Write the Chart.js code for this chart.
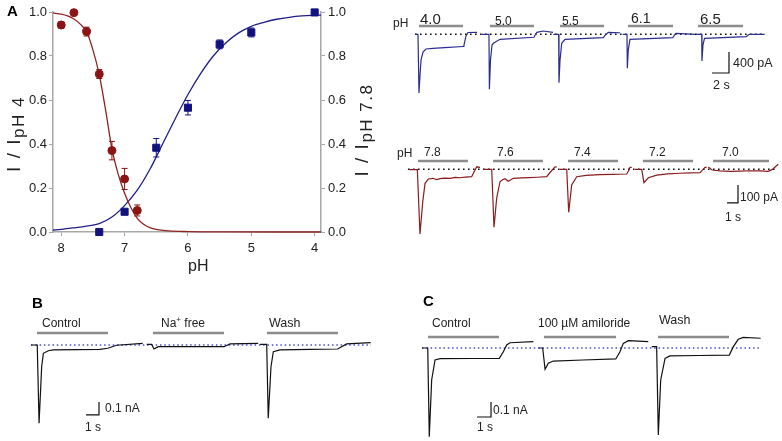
<!DOCTYPE html>
<html><head><meta charset="utf-8">
<script src="https://cdn.jsdelivr.net/npm/chart.js@4.4.0/dist/chart.umd.min.js"></script>
<style>
body{margin:0;width:782px;height:441px;position:relative;background:#fff;overflow:hidden;font-family:Arial,"Liberation Sans",sans-serif;color:#222}
canvas{position:absolute}
.t{position:absolute;white-space:nowrap;line-height:1}
.b{font-weight:bold;color:#000}
.rot{position:absolute;white-space:nowrap;line-height:1;letter-spacing:1.5px;transform:translate(-50%,-50%) rotate(-90deg)}
</style></head><body>
<canvas id="cA" width="375" height="280" style="left:0;top:0"></canvas>
<canvas id="cTop" width="402" height="130" style="left:380px;top:0"></canvas>
<canvas id="cBot" width="402" height="150" style="left:380px;top:135px"></canvas>
<canvas id="cB" width="390" height="156" style="left:0;top:285px"></canvas>
<canvas id="cC" width="392" height="156" style="left:390px;top:285px"></canvas>

<div class="t b" style="left:7px;top:3px;font-size:15px">A</div>
<div class="rot" style="left:13px;top:134px;font-size:19px">I / I<span style="font-size:17px;position:relative;top:4px">pH 4</span></div>
<div class="rot" style="left:361px;top:130px;font-size:19px">I / I<span style="font-size:17px;position:relative;top:4px">pH 7.8</span></div>
<div class="t" style="left:188px;top:258px;font-size:16px">pH</div>

<div class="t" style="left:393px;top:17px;font-size:12px">pH</div>
<div class="t" style="left:420px;top:10.5px;font-size:15px">4.0</div>
<div class="t" style="left:495px;top:14.5px;font-size:12px">5.0</div>
<div class="t" style="left:562px;top:14.5px;font-size:12px">5.5</div>
<div class="t" style="left:631px;top:11px;font-size:14px">6.1</div>
<div class="t" style="left:700px;top:10.5px;font-size:15px">6.5</div>
<div class="t" style="left:733px;top:57px;font-size:12.5px">400 pA</div>
<div class="t" style="left:713px;top:79px;font-size:12.5px">2 s</div>

<div class="t" style="left:397px;top:146.5px;font-size:12px">pH</div>
<div class="t" style="left:424px;top:146px;font-size:12px">7.8</div>
<div class="t" style="left:497px;top:146px;font-size:12px">7.6</div>
<div class="t" style="left:574px;top:146px;font-size:12px">7.4</div>
<div class="t" style="left:649px;top:146px;font-size:12px">7.2</div>
<div class="t" style="left:722px;top:146px;font-size:12px">7.0</div>
<div class="t" style="left:740px;top:191px;font-size:12px">100 pA</div>
<div class="t" style="left:725px;top:210.5px;font-size:12px">1 s</div>

<div class="t b" style="left:32px;top:294.5px;font-size:15px">B</div>
<div class="t" style="left:42px;top:317px;font-size:12px">Control</div>
<div class="t" style="left:161px;top:317px;font-size:12px">Na<span style="font-size:8px;position:relative;top:-5px">+</span> free</div>
<div class="t" style="left:269px;top:317px;font-size:12.5px">Wash</div>
<div class="t" style="left:105px;top:402px;font-size:12px">0.1 nA</div>
<div class="t" style="left:85px;top:421px;font-size:12px">1 s</div>

<div class="t b" style="left:423px;top:292.5px;font-size:15px">C</div>
<div class="t" style="left:432px;top:317px;font-size:12px">Control</div>
<div class="t" style="left:538px;top:317px;font-size:12px">100 µM amiloride</div>
<div class="t" style="left:659px;top:314px;font-size:12.5px">Wash</div>
<div class="t" style="left:493px;top:404px;font-size:12px">0.1 nA</div>
<div class="t" style="left:477px;top:421px;font-size:12px">1 s</div>

<script>
// ---------- Panel A: dose-response data ----------
const phTicks = [8, 7, 6, 5, 4];
const yTicks = [0, 0.2, 0.4, 0.6, 0.8, 1.0];
// red: I / I pH 7.8
const redPH  = [8.0, 7.8, 7.6, 7.4, 7.2, 7.0, 6.8];
const redVal = [0.941, 0.997, 0.911, 0.718, 0.370, 0.241, 0.098];
const redErr = [0.015, 0, 0.02, 0.02, 0.042, 0.048, 0.025];
// blue: I / I pH 4
const bluePH  = [7.4, 7.0, 6.5, 6.0, 5.5, 5.0, 4.0];
const blueVal = [0.0, 0.092, 0.383, 0.565, 0.853, 0.907, 0.998];
const blueErr = [0, 0, 0.042, 0.033, 0.02, 0.02, 0];
// fitted curves
const redFitPH  = [8.13, 8.0, 7.9, 7.8, 7.7, 7.6, 7.5, 7.4, 7.3, 7.2, 7.1, 7.0, 6.9, 6.8, 6.7, 6.6, 6.5, 6.3, 6.0, 5.5, 4.5, 3.9];
const redFitVal = [0.996, 0.99, 0.982, 0.968, 0.945, 0.91, 0.828, 0.715, 0.555, 0.378, 0.262, 0.176, 0.11, 0.062, 0.035, 0.02, 0.012, 0.005, 0.002, 0.0005, 0, 0];
const blueFitPH  = [8.13, 8.0, 7.8, 7.6, 7.4, 7.2, 7.0, 6.8, 6.6, 6.4, 6.2, 6.0, 5.8, 5.6, 5.4, 5.2, 5.0, 4.8, 4.6, 4.4, 4.2, 4.0, 3.9];
const blueFitVal = [0.009, 0.012, 0.019, 0.027, 0.038, 0.068, 0.12, 0.19, 0.285, 0.40, 0.515, 0.625, 0.72, 0.80, 0.86, 0.905, 0.935, 0.953, 0.967, 0.976, 0.982, 0.985, 0.986];

// ---------- Panel A (right top): pH 4.0-6.5 traces [time s, current pA] ----------
const topPH40 = [[0,0],[0.35,0],[0.47,-1118],[0.59,-775],[0.71,-490],[0.94,-337],[1.29,-280],[2.1,-267],[3.5,-252],[5.65,-232],[5.76,-204],[6.0,-32],[6.24,34],[7.3,38]];
const topPH50 = [[7.85,0],[8.7,0],[8.75,-1048],[8.88,-490],[9.06,-204],[9.22,-171],[10.0,-95],[14.0,-57],[14.15,-10],[14.35,38],[15.06,63],[16.24,38]];
const topPH55 = [[16.27,0],[16.9,0],[16.94,-922],[17.06,-495],[17.26,-171],[17.65,-95],[22.16,-65],[22.35,-20],[22.74,38],[24.12,30]];
const topPH61 = [[24.43,0],[24.94,0],[24.98,-648],[25.09,-300],[25.29,-95],[30.32,-65],[30.5,-20],[30.71,19],[32.94,0]];
const topPH65 = [[33.06,0],[33.73,0],[33.76,-508],[33.88,-200],[34.06,-76],[38.98,-46],[39.2,-15],[39.38,0],[41.14,0]];
const topBars = [[0.47,5.65],[8.82,14.0],[17.06,22.24],[25.06,30.35],[33.3,38.6]];
const topBarLevel = 158;
const topBaseline = [0, 40.8];
const topScale = {t: [34.94, 36.94], i: [-737, -337]};

// ---------- Panel A (right bottom): pH 7.8-7.0 traces [s, pA] ----------
const botPH78 = [[0.12,-2],[0.85,-2],[1.09,-359],[1.34,-180],[1.55,-78],[1.85,-54],[2.27,-50],[2.6,-57],[2.91,-52],[3.3,-49],[3.82,-50],[4.3,-45],[4.73,-47],[5.2,-43],[5.79,-41],[6.0,-15],[6.25,14],[6.55,11]];
const botPH76 = [[6.85,0],[7.61,0],[7.82,-322],[8.06,-161],[8.36,-69],[8.6,-58],[8.82,-52],[9.12,-66],[9.57,-50],[10.3,-48],[11.0,-46],[11.8,-44],[12.61,-41],[12.95,-15],[13.36,14],[13.52,12]];
const botPH74 = [[13.82,0],[14.43,0],[14.61,-239],[14.88,-87],[15.34,-41],[16.2,-34],[17.45,-30],[18.6,-28],[19.88,-26],[20.05,-8],[20.18,11],[20.34,11]];
const botPH72 = [[20.64,0],[21.25,0],[21.45,-74],[21.85,-47],[22.61,-32],[23.6,-25],[24.73,-22],[25.6,-20],[26.55,-19],[26.77,-5],[27.0,11],[27.15,11]];
const botPH70 = [[27.3,13],[27.64,-4],[28.36,-9],[29.3,-11],[30.18,-10],[31.1,-8],[32.0,-9],[32.75,-11],[33.09,-2],[33.66,28]];
const botBars = [[0.91,5.45],[7.73,12.27],[14.55,19.09],[21.36,25.91],[27.73,32.82]];
const botBarLevel = 46;
const botBaseline = [0, 33.64];
const botScale = {t: [29.0, 30.0], i: [-187, -87]};

// ---------- Panel B [s, nA] ----------
const bControl = [[0,0],[0.48,0],[0.62,-0.602],[0.82,-0.167],[0.95,-0.064],[1.33,-0.044],[1.72,-0.038],[3.5,-0.036],[5.31,-0.033],[5.9,-0.025],[6.59,-0.002],[8.59,0.013]];
const bNaFree  = [[8.9,0.005],[9.28,0.005],[9.46,-0.031],[9.79,-0.013],[12.0,-0.012],[14.85,-0.013],[15.31,0.008],[17.48,0.013]];
const bWash    = [[17.62,0.005],[18.13,0.005],[18.25,-0.564],[18.46,-0.167],[18.64,-0.052],[19.15,-0.038],[21.5,-0.034],[23.59,-0.031],[24.28,0.008],[26.13,0.018]];
const bBars = [[0.46,5.92],[9.38,14.85],[18.15,23.62]];
const bBarLevel = 0.092;
const bBaseline = [0, 26.15];
const bScale = {t: [4.23, 5.23], i: [-0.538, -0.438]};

// ---------- Panel C [s, nA] ----------
const cControl   = [[0,0],[0.41,0],[0.52,-0.591],[0.69,-0.213],[0.93,-0.08],[1.29,-0.071],[3.5,-0.07],[5.52,-0.069],[5.81,-0.025],[6.05,0.02],[6.29,0.035],[7.95,0.042]];
const cAmiloride = [[8.31,0],[8.62,0],[8.79,-0.142],[9.02,-0.102],[9.38,-0.087],[11.5,-0.08],[13.84,-0.073],[14.14,-0.025],[14.38,0.031],[14.74,0.049],[16.16,0.042]];
const cWash      = [[16.41,0.009],[16.76,0.009],[16.88,-0.58],[17.05,-0.213],[17.36,-0.069],[17.71,-0.053],[19.8,-0.05],[21.95,-0.047],[22.24,0.009],[22.59,0.058],[22.95,0.071],[24.19,0.065]];
const cBars = [[0.43,5.5],[8.71,13.86],[16.86,21.93]];
const cBarLevel = 0.073;
const cBaseline = [0, 24.21];
const cScale = {t: [3.93, 4.93], i: [-0.46, -0.36]};

Chart.defaults.font.family = 'Arial, "Liberation Sans", sans-serif';
Chart.defaults.color = '#222';

const RED = '#8b1414', BLUE = '#12127f', AXIS = '#a8a8a8';
const zip = (xs, ys) => xs.map((x, k) => ({x, y: ys[k]}));

const errorBars = {
  id: 'errorBars',
  afterDatasetsDraw(chart) {
    const ctx = chart.ctx;
    chart.data.datasets.forEach((ds, di) => {
      if (!ds.errors) return;
      const meta = chart.getDatasetMeta(di);
      const ys = chart.scales[ds.yAxisID];
      meta.data.forEach((pt, k) => {
        const e = ds.errors[k]; if (!e) return;
        const v = ds.data[k].y;
        const y1 = ys.getPixelForValue(v + e), y2 = ys.getPixelForValue(v - e);
        ctx.save(); ctx.strokeStyle = ds.borderColor; ctx.lineWidth = 1;
        ctx.beginPath();
        ctx.moveTo(pt.x, y1); ctx.lineTo(pt.x, y2);
        ctx.moveTo(pt.x - 3, y1); ctx.lineTo(pt.x + 3, y1);
        ctx.moveTo(pt.x - 3, y2); ctx.lineTo(pt.x + 3, y2);
        ctx.stroke(); ctx.restore();
      });
    });
  }
};

const yAxis = (pos, w) => ({
  position: pos, min: 0, max: 1,
  afterBuildTicks: s => { s.ticks = yTicks.map(v => ({value: v})); },
  afterFit: s => { s.width = w; },
  ticks: {font: {size: 13}, color: '#222', padding: pos === 'left' ? 2 : 3, callback: v => v.toFixed(1)},
  grid: {drawOnChartArea: false, tickLength: 4, color: AXIS},
  border: {color: AXIS, width: 1.5}
});

new Chart(document.getElementById('cA'), {
  type: 'scatter',
  data: {datasets: [
    {data: zip(redPH, redVal), errors: redErr, yAxisID: 'y2', pointStyle: 'circle', pointRadius: 4, backgroundColor: RED, borderColor: RED, borderWidth: 1},
    {data: zip(bluePH, blueVal), errors: blueErr, yAxisID: 'y', pointStyle: 'rect', pointRadius: 5, backgroundColor: BLUE, borderColor: BLUE, borderWidth: 1},
    {data: zip(redFitPH, redFitVal), yAxisID: 'y2', showLine: true, pointRadius: 0, borderColor: '#8e2323', borderWidth: 1.3, tension: 0.4, cubicInterpolationMode: 'monotone'},
    {data: zip(blueFitPH, blueFitVal), yAxisID: 'y', showLine: true, pointRadius: 0, borderColor: '#1f1f85', borderWidth: 1.3, tension: 0.4, cubicInterpolationMode: 'monotone'}
  ]},
  options: {
    responsive: false, animation: false, events: [], clip: false,
    layout: {padding: {top: 12, left: 0, right: 0, bottom: 0}},
    plugins: {legend: {display: false}, tooltip: {enabled: false}},
    scales: {
      x: {type: 'linear', reverse: true, min: 3.9, max: 8.13,
          afterBuildTicks: s => { s.ticks = phTicks.map(v => ({value: v})); },
          afterFit: s => { s.height = 48; },
          ticks: {font: {size: 13}, color: '#222', padding: 5},
          grid: {drawOnChartArea: false, tickLength: 4, color: AXIS},
          border: {color: AXIS, width: 1.5}},
      y: yAxis('left', 53),
      y2: yAxis('right', 54)
    }
  },
  plugins: [errorBars]
});

function traceChart(id, traces, color, bars, barLevel, baseline, baseColor, dash, scale, xr, yr) {
  const ds = [];
  traces.forEach(tr => ds.push({data: tr.map(p => ({x: p[0], y: p[1]})), showLine: true, pointRadius: 0, borderColor: color, borderWidth: 1.2}));
  ds.push({data: [{x: scale.t[0], y: scale.i[0]}, {x: scale.t[1], y: scale.i[0]}, {x: scale.t[1], y: scale.i[1]}], showLine: true, pointRadius: 0, borderColor: '#111', borderWidth: 1.2});
  bars.forEach(b => ds.push({data: [{x: b[0], y: barLevel}, {x: b[1], y: barLevel}], showLine: true, pointRadius: 0, borderColor: '#8c8c8c', borderWidth: 2.5}));
  ds.push({data: [{x: baseline[0], y: 0}, {x: baseline[1], y: 0}], showLine: true, pointRadius: 0, borderColor: baseColor, borderWidth: 1.6, borderDash: dash});
  new Chart(document.getElementById(id), {
    type: 'scatter', data: {datasets: ds},
    options: {responsive: false, animation: false, events: [], clip: false,
      layout: {padding: 0},
      plugins: {legend: {display: false}, tooltip: {enabled: false}},
      scales: {x: {type: 'linear', display: false, min: xr[0], max: xr[1]}, y: {display: false, min: yr[0], max: yr[1]}}}
  });
}

traceChart('cTop', [topPH40, topPH50, topPH55, topPH61, topPH65], '#2b2d8e', topBars, topBarLevel, topBaseline, '#111', [1.6, 3.4], topScale, [-4.118, 43.176], [-1823, 653.4]);
traceChart('cBot', [botPH78, botPH76, botPH74, botPH72, botPH70], '#8b1c1c', botBars, botBarLevel, botBaseline, '#111', [1.6, 3.4], botScale, [-2.545, 34.0], [-642.8, 190.6]);
traceChart('cB', [bControl, bNaFree, bWash], '#111', bBars, bBarLevel, bBaseline, '#4b4bd0', [1.5, 2.8], bScale, [-2.385, 27.615], [-0.7385, 0.4615]);
traceChart('cC', [cControl, cAmiloride, cWash], '#111', cBars, cBarLevel, cBaseline, '#4b4bd0', [1.5, 2.8], cScale, [-2.286, 25.714], [-0.62, 0.42]);
</script>
</body></html>
